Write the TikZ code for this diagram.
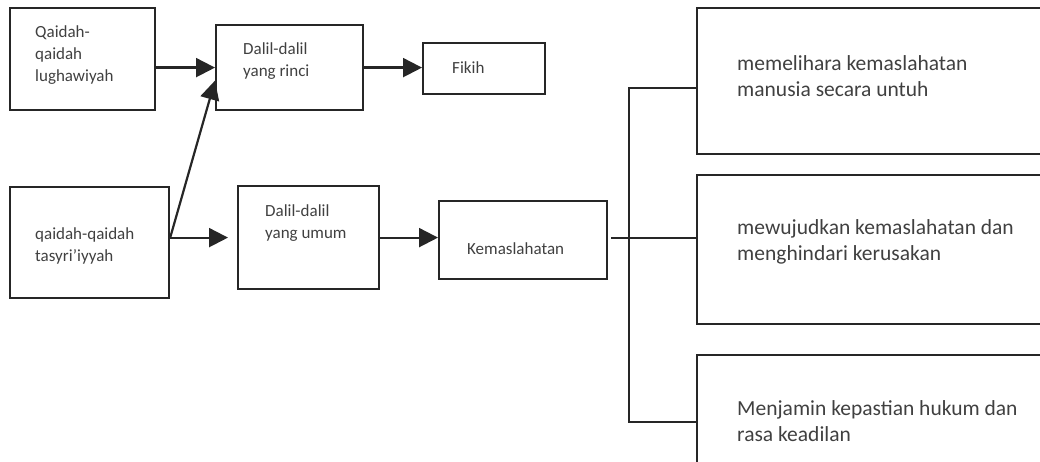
\documentclass[tikz,border=0pt]{standalone}
\usepackage{fontspec}
\setmainfont{Carlito}
\usetikzlibrary{arrows.meta}
\begin{document}
\begin{tikzpicture}[x=1pt,y=-1pt,
  box/.style={draw=black!85, line width=2.2pt, anchor=north west, inner sep=0pt},
  lbl/.style={anchor=west, align=left, inner sep=0pt, text=black!75,
    font=\fontsize{17}{22}\selectfont},
  big/.style={lbl, font=\fontsize{21.5}{26.5}\selectfont},
  link/.style={draw=black!85, line width=2.2pt},
  arr/.style={link, -{Triangle[length=19pt,width=19pt]}}]
\useasboundingbox (0,0) rectangle (1040,462);
\clip (0,0) rectangle (1040,462);

% boxes
\node[box, minimum width=145pt, minimum height=102pt] (A) at (9,7) {};
\node[box, minimum width=147pt, minimum height=85pt]  (B) at (215,24) {};
\node[box, minimum width=122pt, minimum height=51pt]  (C) at (422,42) {};
\node[box, minimum width=159pt, minimum height=111pt] (D) at (9,186) {};
\node[box, minimum width=141pt, minimum height=103pt] (E) at (237,185) {};
\node[box, minimum width=168pt, minimum height=78pt]  (F) at (438,200) {};
\node[box, minimum width=370pt, minimum height=146pt] (R1) at (696,7) {};
\node[box, minimum width=370pt, minimum height=149pt] (R2) at (696,174) {};
\node[box, minimum width=370pt, minimum height=130pt] (R3) at (696,354) {};

% labels
\node[lbl] (tA) at (35,55)   {Qaidah-\\qaidah\\lughawiyah};
\node[lbl] (tB) at (243,61.5) {Dalil-dalil\\yang rinci};
\node[lbl] (tC) at (452,68)  {Fikih};
\node[lbl] (tD) at (35,245.5) {qaidah-qaidah\\tasyri’iyyah};
\node[lbl] (tE) at (265,223) {Dalil-dalil\\yang umum};
\node[lbl] (tF) at (467,249) {Kemaslahatan};
\node[big] (t1) at (737,76)  {memelihara kemaslahatan\\manusia secara untuh};
\node[big] (t2) at (737,242) {mewujudkan kemaslahatan dan\\menghindari kerusakan};
\node[big] (t3) at (737,421) {Menjamin kepastian hukum dan\\rasa keadilan};

% arrows
\draw[arr] (A.east |- B.west) -- (B.west);
\draw[arr] (B.east) -- (B.east -| C.west);
\coordinate (Dout) at (D.east |- E.west);
\draw[arr, shorten >=9pt] (Dout) -- (E.west);
\draw[arr] (Dout) -- ([yshift=-13pt]B.west);
\draw[arr] (E.east) -- (E.east -| F.west);

% bracket to the three outcomes
\coordinate (J1) at (629,88);
\coordinate (J3) at (629,422);
\draw[link, shorten <=3pt] (F.east |- E.east) -- (E.east -| R2.west);
\draw[link] (J1 -| R1.west) -- (J1) -- (J3) -- (J3 -| R3.west);
\end{tikzpicture}
\end{document}
